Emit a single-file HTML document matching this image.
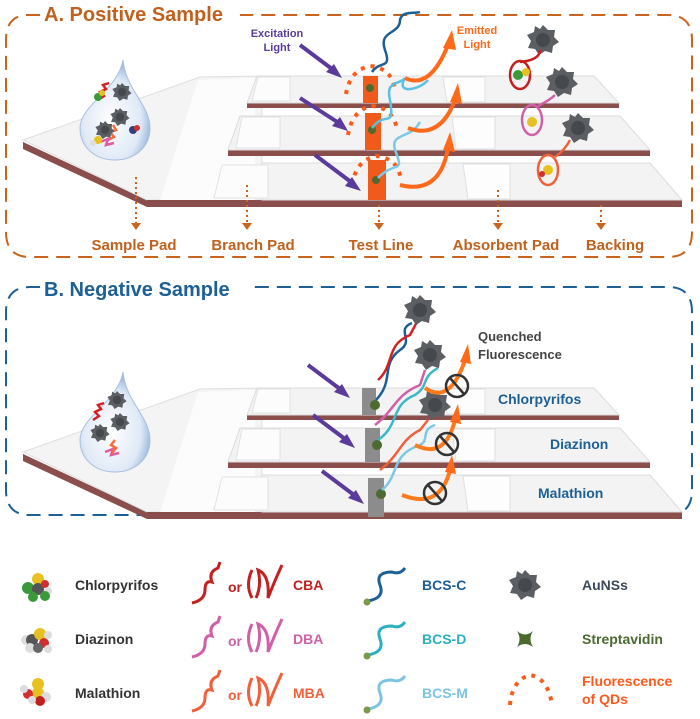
<!DOCTYPE html>
<html><head><meta charset="utf-8"><style>
html,body{margin:0;padding:0;background:#fff}
svg{display:block}
text{font-family:"Liberation Sans",sans-serif;font-weight:bold}
</style></head><body>
<svg width="700" height="719" viewBox="0 0 700 719" xmlns="http://www.w3.org/2000/svg">
<defs>
<radialGradient id="drop" cx="0.45" cy="0.6" r="0.6">
<stop offset="0" stop-color="#ffffff"/><stop offset="0.7" stop-color="#dfe9f6"/><stop offset="1" stop-color="#8fb0d8"/>
</radialGradient>
<g id="auns"><path d="M0,-15 L5,-10 12,-10 11,-3 16,2 10,6 9,13 2,11 -4,15 -8,9 -15,8 -12,1 -16,-5 -9,-8 -8,-14 -3,-11Z" fill="#5b5e63"/><circle r="7" fill="#45484d"/></g>
<g id="strips">
<polygon points="23,142 147,200 147,207 23,149" fill="#8a4f4c"/>
<polygon points="23,140 200,77 262,76 262,200 147,200" fill="#f4f4f4" stroke="#dedede"/>
<polygon points="198,80 255,78 255,200 160,200" fill="#fcfcfc"/>
<polygon points="247,103 619,103 619,108 247,108" fill="#8a4f4c"/>
<polygon points="257,76 594,76 619,103 247,103" fill="#f3f3f3" stroke="#dcdcdc"/>
<polygon points="258,77 290,77 290,101 252,101" fill="#fcfcfc" stroke="#e2e2e2"/>
<polygon points="443,77 485,77 485,102 447,102" fill="#fdfdfd" stroke="#e0e0e0"/>
<polygon points="228,150 650,150 650,156 228,156" fill="#8a4f4c"/>
<polygon points="240,116 620,116 650,150 228,150" fill="#f3f3f3" stroke="#dcdcdc"/>
<polygon points="242,117 280,117 280,148 236,148" fill="#fcfcfc" stroke="#e2e2e2"/>
<polygon points="452,117 495,117 495,149 456,149" fill="#fdfdfd" stroke="#e0e0e0"/>
<polygon points="147,200 682,200 682,207 147,207" fill="#8a4f4c"/>
<polygon points="262,163 650,163 682,200 262,200" fill="#f3f3f3" stroke="#dcdcdc"/>
<polygon points="222,165 268,165 268,198 214,198" fill="#fcfcfc" stroke="#e2e2e2"/>
<polygon points="463,164 510,164 510,199 468,199" fill="#fdfdfd" stroke="#e0e0e0"/>
<path d="M123,60 C118,90 80,105 80,128 C80,148 96,160 115,160 C134,160 150,148 150,128 C150,105 126,90 123,60Z" fill="url(#drop)" stroke="#a9c1e0"/>
</g>
</defs>

<path d="M40,15 L28,15 Q6,15 6,40 L6,232 Q6,257 30,257 L668,257 Q692,257 692,232 L692,40 Q692,15 668,15 L240,15" fill="none" stroke="#c8641e" stroke-width="2" stroke-dasharray="14,8"/>
<text x="44" y="21" font-size="20" fill="#c0611e">A. Positive Sample</text>
<use href="#strips"/>
<g fill="none" stroke-width="2.5">
<path d="M98,100 l6,-4 -4,-4 6,-3 -3,-4 6,-2" stroke="#d42020"/>
<path d="M108,140 l6,-3 -4,-5 6,-2 -3,-5" stroke="#ff6a3a"/>
<path d="M100,142 l8,-3 -2,6 8,-2" stroke="#e05a9e"/>
</g>
<use href="#auns" transform="translate(122,92) scale(0.6)"/>
<use href="#auns" transform="translate(120,117) scale(0.6)"/>
<use href="#auns" transform="translate(105,130) scale(0.6)"/>
<circle cx="98" cy="97" r="4" fill="#3a9a3a"/><circle cx="102" cy="93" r="3" fill="#e8c020"/>
<circle cx="133" cy="130" r="4" fill="#304080"/><circle cx="137" cy="128" r="3" fill="#d03030"/>
<circle cx="98" cy="140" r="4" fill="#e8c020"/><circle cx="93" cy="143" r="3" fill="#ddd"/>

<rect x="363" y="76" width="15" height="27" fill="#f05a1a"/>
<rect x="365" y="113" width="16" height="37" fill="#f05a1a"/>
<rect x="368" y="160" width="18" height="40" fill="#f05a1a"/>
<g fill="#4f6a30"><circle cx="370" cy="88" r="4"/><circle cx="372" cy="130" r="4"/><circle cx="376" cy="180" r="4"/></g>
<g stroke="#ff5a1a" stroke-width="4" fill="none" stroke-dasharray="4,6">
<path d="M346,94 Q350,70 370,66 Q392,68 395,90"/>
<path d="M348,135 Q352,110 372,106 Q394,108 397,130"/>
<path d="M352,185 Q356,160 376,156 Q398,158 401,180"/>
</g>
<g stroke="#5a3a9a" stroke-width="4">
<line x1="300" y1="45" x2="336" y2="72"/><line x1="300" y1="98" x2="342" y2="125"/><line x1="315" y1="155" x2="355" y2="185"/>
</g>
<g fill="#5a3a9a"><polygon points="342,78 326,72 334,64"/><polygon points="348,131 332,126 340,117"/><polygon points="361,191 345,186 352,177"/></g>
<text x="277" y="37" font-size="11" fill="#5a3c9a" text-anchor="middle">Excitation</text>
<text x="277" y="51" font-size="11" fill="#5a3c9a" text-anchor="middle">Light</text>
<text x="477" y="34" font-size="11" fill="#ff6a1a" text-anchor="middle">Emitted</text>
<text x="477" y="48" font-size="11" fill="#ff6a1a" text-anchor="middle">Light</text>
<path d="M372,72 C380,60 392,70 385,50 C378,30 400,35 400,20 C402,10 415,14 420,12" fill="none" stroke="#1b5f96" stroke-width="2.5"/>
<path d="M372,128 C385,110 395,130 390,100 C385,80 400,85 405,78 C395,95 420,90 428,80" fill="none" stroke="#5cc0e0" stroke-width="2.5"/>
<path d="M378,178 C395,160 405,175 395,150 C390,132 410,140 420,122" fill="none" stroke="#7cc8e8" stroke-width="2.5"/>
<g fill="none" stroke="#ff6a1a" stroke-width="4">
<path d="M405,78 Q430,90 448,45"/><path d="M408,128 Q440,140 455,100"/><path d="M400,185 Q440,195 448,148"/>
</g>
<g fill="#ff6a1a"><polygon points="443,48 452,30 456,50"/><polygon points="450,102 458,83 462,104"/><polygon points="443,150 450,132 455,152"/></g>
<use href="#auns" transform="translate(543,40)"/><use href="#auns" transform="translate(562,82)"/><use href="#auns" transform="translate(578,128)"/>
<g fill="none" stroke-width="2.5">
<ellipse cx="520" cy="75" rx="10" ry="14" stroke="#c42020"/><path d="M520,62 Q540,60 540,50" stroke="#c42020"/>
<ellipse cx="532" cy="120" rx="10" ry="15" stroke="#d060a8"/><path d="M538,106 Q550,100 555,95" stroke="#d060a8"/>
<ellipse cx="548" cy="170" rx="10" ry="15" stroke="#f0603a"/><path d="M555,157 Q565,150 570,140" stroke="#f0603a"/>
</g>
<g><circle cx="518" cy="75" r="5" fill="#3a9a3a"/><circle cx="526" cy="72" r="4" fill="#e8c020"/><circle cx="532" cy="122" r="5" fill="#e8c020"/><circle cx="548" cy="170" r="5" fill="#e8c020"/><circle cx="542" cy="174" r="3" fill="#d03030"/></g>
<g stroke="#c8641e" stroke-width="2" stroke-dasharray="2,3">
<line x1="136" y1="177" x2="136" y2="225"/><line x1="247" y1="185" x2="247" y2="225"/><line x1="379" y1="205" x2="379" y2="225"/><line x1="498" y1="190" x2="498" y2="225"/><line x1="601" y1="205" x2="601" y2="225"/>
</g>
<g fill="#c8641e"><polygon points="131,223 141,223 136,230"/><polygon points="242,223 252,223 247,230"/><polygon points="374,223 384,223 379,230"/><polygon points="493,223 503,223 498,230"/><polygon points="596,223 606,223 601,230"/></g>
<g font-size="15" fill="#c0611e" text-anchor="middle">
<text x="134" y="250">Sample Pad</text><text x="253" y="250">Branch Pad</text><text x="381" y="250">Test Line</text><text x="506" y="250">Absorbent Pad</text><text x="615" y="250">Backing</text>
</g>

<path d="M40,287 L30,287 Q6,287 6,312 L6,490 Q6,515 30,515 L668,515 Q692,515 692,490 L692,312 Q692,287 668,287 L250,287" fill="none" stroke="#1d6096" stroke-width="2" stroke-dasharray="14,8"/>
<text x="44" y="296" font-size="20" fill="#1d6096">B. Negative Sample</text>
<use href="#strips" transform="translate(0,312)"/>
<use href="#auns" transform="translate(117,400) scale(0.6)"/><use href="#auns" transform="translate(120,422) scale(0.6)"/><use href="#auns" transform="translate(100,433) scale(0.6)"/>
<g fill="none" stroke-width="2.5"><path d="M93,420 l6,-4 -4,-4 6,-3 -3,-4 6,-2" stroke="#d42020"/><path d="M105,452 l8,-3 -2,6 8,-2" stroke="#e05a9e"/><path d="M115,440 l-4,5 5,3 -4,5" stroke="#ff6a3a"/></g>
<rect x="362" y="388" width="14" height="27" fill="#8c8c8c"/>
<rect x="365" y="428" width="15" height="34" fill="#8c8c8c"/>
<rect x="368" y="478" width="16" height="39" fill="#8c8c8c"/>
<g fill="#4f6a30"><circle cx="375" cy="405" r="5"/><circle cx="377" cy="445" r="5"/><circle cx="381" cy="494" r="5"/></g>
<g stroke="#5a3a9a" stroke-width="4"><line x1="308" y1="365" x2="344" y2="392"/><line x1="313" y1="415" x2="349" y2="442"/><line x1="322" y1="471" x2="358" y2="498"/></g>
<g fill="#5a3a9a"><polygon points="350,398 334,392 342,384"/><polygon points="355,448 339,442 347,434"/><polygon points="364,504 348,498 356,490"/></g>
<path d="M376,400 C395,380 380,365 400,350 C415,340 395,330 412,323" fill="none" stroke="#1b5f96" stroke-width="2.5"/>
<path d="M378,380 C395,365 385,345 410,335 L418,320" fill="none" stroke="#d42020" stroke-width="2.5"/>
<path d="M378,440 C400,425 390,405 415,395 C430,385 420,378 438,368" fill="none" stroke="#3ab8c8" stroke-width="2.5"/>
<path d="M375,425 C395,410 395,395 420,385 L425,370" fill="none" stroke="#d060a8" stroke-width="2.5"/>
<path d="M382,490 C400,475 390,455 420,445 C430,440 420,430 435,425" fill="none" stroke="#7cc8e8" stroke-width="2.5"/>
<path d="M380,470 C400,455 400,440 420,430 L428,420" fill="none" stroke="#f0603a" stroke-width="2.5"/>
<use href="#auns" transform="translate(420,310)"/><use href="#auns" transform="translate(430,355)"/><use href="#auns" transform="translate(435,405)"/>
<g fill="none" stroke="#ff7a1a" stroke-width="4"><path d="M425,388 Q450,405 465,360"/><path d="M415,445 Q445,460 455,420"/><path d="M402,495 Q440,510 450,470"/></g>
<g fill="#ff6a1a"><polygon points="460,362 468,344 471,364"/><polygon points="450,422 458,404 461,424"/><polygon points="445,472 452,455 456,474"/></g>
<g fill="none" stroke="#333" stroke-width="2.5"><circle cx="457" cy="386" r="11"/><line x1="450" y1="378" x2="464" y2="394"/><circle cx="447" cy="444" r="11"/><line x1="440" y1="436" x2="454" y2="452"/><circle cx="435" cy="493" r="11"/><line x1="428" y1="485" x2="442" y2="501"/></g>
<text x="478" y="341" font-size="13" fill="#444">Quenched</text>
<text x="478" y="359" font-size="13" fill="#444">Fluorescence</text>
<g font-size="14" fill="#1d6096"><text x="498" y="404">Chlorpyrifos</text><text x="550" y="449">Diazinon</text><text x="538" y="498">Malathion</text></g>

<g font-size="14">
<text x="75" y="590" fill="#333">Chlorpyrifos</text><text x="75" y="644" fill="#333">Diazinon</text><text x="75" y="698" fill="#333">Malathion</text>
<text x="228" y="592" fill="#c42020">or</text><text x="293" y="590" fill="#c42020">CBA</text>
<text x="228" y="646" fill="#d060a8">or</text><text x="293" y="644" fill="#d060a8">DBA</text>
<text x="228" y="700" fill="#f0603a">or</text><text x="293" y="698" fill="#f0603a">MBA</text>
<text x="422" y="590" fill="#1b5f96">BCS-C</text><text x="422" y="644" fill="#2bb0c0">BCS-D</text><text x="422" y="698" fill="#7cc4e0">BCS-M</text>
<text x="582" y="590" fill="#3a4a5a">AuNSs</text><text x="582" y="644" fill="#4a6a30">Streptavidin</text>
<text x="582" y="686" fill="#ff5a1a">Fluorescence</text><text x="582" y="704" fill="#ff5a1a">of QDs</text>
</g>
<g>
<circle cx="28" cy="588" r="6" fill="#3a9a3a"/><circle cx="38" cy="579" r="6" fill="#e8c020"/><circle cx="38" cy="589" r="6" fill="#555"/><circle cx="33" cy="597" r="5" fill="#3a9a3a"/><circle cx="45" cy="584" r="4" fill="#d03030"/><circle cx="48" cy="591" r="4" fill="#ddd"/><circle cx="45" cy="596" r="5" fill="#3a9a3a"/>
<circle cx="26" cy="640" r="5" fill="#ddd"/><circle cx="32" cy="640" r="6" fill="#555"/><circle cx="40" cy="634" r="6" fill="#e8c020"/><circle cx="44" cy="643" r="5" fill="#d03030"/><circle cx="30" cy="648" r="5" fill="#ddd"/><circle cx="38" cy="648" r="5" fill="#666"/><circle cx="48" cy="649" r="4" fill="#ddd"/><circle cx="48" cy="635" r="4" fill="#ddd"/>
<circle cx="38" cy="684" r="6" fill="#e8c020"/><circle cx="38" cy="693" r="6" fill="#e8c020"/><circle cx="28" cy="694" r="5" fill="#d03030"/><circle cx="46" cy="697" r="5" fill="#ddd"/><circle cx="24" cy="689" r="4" fill="#ddd"/><circle cx="40" cy="701" r="5" fill="#c02020"/><circle cx="32" cy="700" r="4" fill="#ddd"/>
</g>
<g fill="none" stroke-width="3">
<path d="M192,603 Q205,600 205,590 Q205,580 212,582 Q208,572 218,568 L220,562" stroke="#c42020"/>
<path d="M252,598 Q245,585 252,570 M256,598 Q262,585 258,570 Q270,575 268,598 Q275,580 282,565" stroke="#c42020"/>
<path d="M192,657 Q205,654 205,644 Q205,634 212,636 Q208,626 218,622 L220,616" stroke="#d060a8"/>
<path d="M252,652 Q245,639 252,624 M256,652 Q262,639 258,624 Q270,629 268,652 Q275,634 282,619" stroke="#d060a8"/>
<path d="M192,711 Q205,708 205,698 Q205,688 212,690 Q208,680 218,676 L220,670" stroke="#f0603a"/>
<path d="M252,706 Q245,693 252,678 M256,706 Q262,693 258,678 Q270,683 268,706 Q275,688 282,673" stroke="#f0603a"/>
<path d="M368,601 Q385,598 380,585 Q375,572 392,572 Q400,575 405,568" stroke="#1b5f96"/>
<path d="M368,655 Q385,652 380,639 Q375,626 392,626 Q400,629 405,622" stroke="#2bb0c0"/>
<path d="M368,709 Q385,706 380,693 Q375,680 392,680 Q400,683 405,676" stroke="#7cc4e0"/>
</g>
<g fill="#7a9a4a"><circle cx="367" cy="602" r="3.5"/><circle cx="367" cy="656" r="3.5"/><circle cx="367" cy="710" r="3.5"/></g>
<use href="#auns" transform="translate(525,585)"/>
<path d="M517,631 Q525,638 533,631 Q528,639 533,647 Q525,641 517,647 Q522,639 517,631Z" fill="#4a6a30"/>
<g stroke="#ff5a1a" stroke-width="4" fill="none" stroke-dasharray="4,6"><path d="M510,705 Q512,680 530,675 Q548,678 552,705"/></g>
</svg>
</body></html>
